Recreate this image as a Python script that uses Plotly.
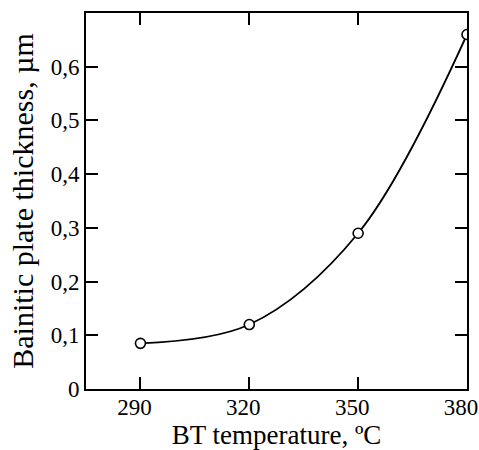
import plotly.graph_objects as go

temps = [290, 320, 350, 380]
thickness = [0.085, 0.12, 0.29, 0.66]

x_ticks = [290, 320, 350, 380]
x_ticklabels = ["290", "320", "350", "380"]
y_ticks = [0, 0.1, 0.2, 0.3, 0.4, 0.5, 0.6]
y_ticklabels = ["0", "0,1", "0,2", "0,3", "0,4", "0,5", "0,6"]

font_family = "Liberation Serif, Times New Roman, serif"

fig = go.Figure()
fig.add_trace(go.Scatter(
    x=temps, y=thickness,
    mode="lines+markers",
    line=dict(color="black", width=1.8, shape="spline", smoothing=1.0),
    marker=dict(symbol="circle", size=10, color="white",
                line=dict(color="black", width=1.6)),
    showlegend=False,
))

axis_common = dict(
    showline=True, linecolor="black", linewidth=2,
    mirror="ticks", ticks="inside", ticklen=12, tickwidth=1.5, tickcolor="black",
    showgrid=False, zeroline=False, automargin=False,
    tickfont=dict(family=font_family, size=23, color="black"),
)

fig.update_layout(
    width=479, height=450,
    margin=dict(l=86, r=12, t=13, b=61),
    paper_bgcolor="white", plot_bgcolor="white",
    font=dict(family=font_family, color="black"),
    xaxis=dict(range=[275, 380], tickvals=x_ticks, ticktext=x_ticklabels,
               ticklabelshift=-6, ticklabelstandoff=-4, ticklabeloverflow="allow",
               title=dict(text="BT temperature, ºC", font=dict(size=27), standoff=2),
               **axis_common),
    yaxis=dict(range=[0, 0.70], tickvals=y_ticks, ticktext=y_ticklabels,
               title=dict(text="Bainitic plate thickness, µm", font=dict(size=30), standoff=8),
               **axis_common),
)

fig.write_html("out.html", config={"displayModeBar": False},
               post_script="document.body.style.margin='0';document.body.style.overflow='hidden';")
